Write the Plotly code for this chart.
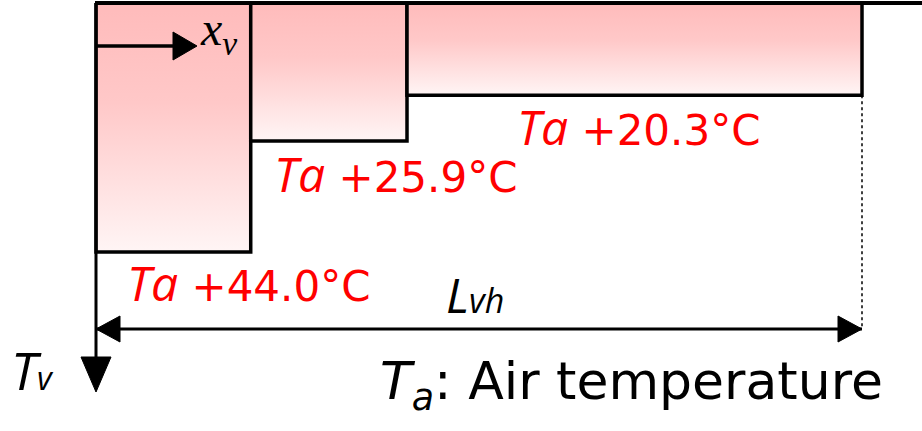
import plotly.graph_objects as go

# ---- data ----
segment_bounds = [0.0, 0.202, 0.406, 1.0]      # x positions along L_vh (fraction)
temp_rise = [44.0, 25.9, 20.3]                  # Ta + ΔT (°C)
drawn_depth = [44.0, 24.4, 16.3]                # schematic box depth (drawn units)
rise_labels = [f"+{v:.1f}°C" for v in temp_rise]

# ---- geometry helpers (pixel calibration of the schematic) ----
W, H = 922, 431
X0, XS = 96.0, 766.0          # px of x=0, px per x-unit
Y0, YS = 3.0, 249.0 / 44.0    # px of y=0, px per y-unit


def px_x(p):
    return (p - X0) / XS


def px_y(p):
    return (p - Y0) / YS


fig = go.Figure()

grad = [[0.0, "#FFBBBB"], [0.4, "#FFC8C8"], [1.0, "#FFF5F5"]]

# boxes with vertical gradient
for i in range(len(temp_rise)):
    x0, x1 = segment_bounds[i], segment_bounds[i + 1]
    d = drawn_depth[i]
    fig.add_trace(go.Scatter(
        x=[x0, x1, x1, x0, x0], y=[0, 0, d, d, 0],
        mode="lines", fill="toself",
        fillgradient=dict(type="vertical", colorscale=grad, start=0, stop=d),
        line=dict(color="black", width=3.5),
        hoverinfo="skip", showlegend=False))

# top line extending right
fig.add_trace(go.Scatter(x=[px_x(95), px_x(922)], y=[0, 0], mode="lines",
                         line=dict(color="black", width=4), showlegend=False, hoverinfo="skip"))

# vertical axis (Tv) with down arrow
arr_y = px_y(329)
tv_tip = px_y(392)
tv_base = px_y(357)
fig.add_trace(go.Scatter(x=[0, 0], y=[0, tv_base + 1], mode="lines",
                         line=dict(color="black", width=3), showlegend=False, hoverinfo="skip"))
hw = 15 / XS
fig.add_trace(go.Scatter(x=[-hw, hw, 0, -hw], y=[tv_base, tv_base, tv_tip, tv_base],
                         mode="lines", fill="toself", fillcolor="black",
                         line=dict(color="black", width=1), showlegend=False, hoverinfo="skip"))

# dotted line at the end of L_vh
x_end = segment_bounds[-1]
fig.add_trace(go.Scatter(x=[x_end, x_end], y=[drawn_depth[-1], arr_y], mode="lines",
                         line=dict(color="black", width=1.5, dash="dot"),
                         showlegend=False, hoverinfo="skip"))

# L_vh double arrow
hl = 24 / XS
hh = 13 / YS
fig.add_trace(go.Scatter(x=[segment_bounds[0], x_end], y=[arr_y, arr_y], mode="lines",
                         line=dict(color="black", width=3), showlegend=False, hoverinfo="skip"))
fig.add_trace(go.Scatter(x=[segment_bounds[0] + hl, segment_bounds[0], segment_bounds[0] + hl, segment_bounds[0] + hl],
                         y=[arr_y - hh, arr_y, arr_y + hh, arr_y - hh],
                         mode="lines", fill="toself", fillcolor="black",
                         line=dict(color="black", width=1), showlegend=False, hoverinfo="skip"))
fig.add_trace(go.Scatter(x=[x_end - hl, x_end, x_end - hl, x_end - hl],
                         y=[arr_y - hh, arr_y, arr_y + hh, arr_y - hh],
                         mode="lines", fill="toself", fillcolor="black",
                         line=dict(color="black", width=1), showlegend=False, hoverinfo="skip"))

# x_v arrow
xv_y = px_y(46)
xv_tip = px_x(197)
xv_base = px_x(173)
xh = 14 / YS
fig.add_trace(go.Scatter(x=[0, xv_base + 0.002], y=[xv_y, xv_y], mode="lines",
                         line=dict(color="black", width=3.5), showlegend=False, hoverinfo="skip"))
fig.add_trace(go.Scatter(x=[xv_base, xv_tip, xv_base, xv_base],
                         y=[xv_y - xh, xv_y, xv_y + xh, xv_y - xh],
                         mode="lines", fill="toself", fillcolor="black",
                         line=dict(color="black", width=1), showlegend=False, hoverinfo="skip"))

# ---- text ----
ta = "<span style='font-family:Open Sans;font-size:48px'><i>Ta</i></span>"
label_pos = [(125, 282), (272, 173), (515, 126)]
for (lx, ly), txt in zip(label_pos, rise_labels):
    fig.add_annotation(x=px_x(lx), y=px_y(ly), text=f"{ta} {txt}", showarrow=False,
                       xanchor="left", yanchor="middle",
                       font=dict(family="DejaVu Sans", size=42, color="#FF0000"))

fig.add_annotation(x=px_x(198), y=px_y(32), text="<i>x<sub>v</sub></i>", showarrow=False,
                   xanchor="left", yanchor="middle",
                   font=dict(family="Liberation Serif", size=48, color="black"))

fig.add_annotation(x=px_x(444), y=px_y(294), text="<i>L<span style='font-size:34px'>vh</span></i>",
                   showarrow=False, xanchor="left", yanchor="middle",
                   font=dict(family="Open Sans", size=48, color="black"))

fig.add_annotation(x=px_x(9), y=px_y(369), text="<i>T<span style='font-size:32px'>v</span></i>",
                   showarrow=False, xanchor="left", yanchor="middle",
                   font=dict(family="Open Sans", size=52, color="black"))

fig.add_annotation(x=px_x(378), y=px_y(385), text="<i>T<sub>a</sub></i>: Air temperature",
                   showarrow=False, xanchor="left", yanchor="middle",
                   font=dict(family="DejaVu Sans", size=52, color="black"))

fig.update_layout(
    width=W, height=H, margin=dict(l=0, r=0, t=0, b=0),
    paper_bgcolor="white", plot_bgcolor="white", showlegend=False,
    xaxis=dict(range=[px_x(0), px_x(W)], visible=False, fixedrange=True),
    yaxis=dict(range=[px_y(H), px_y(0)], visible=False, fixedrange=True),
)

fig.write_html("out.html", config={"displayModeBar": False},
               post_script="document.body.style.margin='0';document.body.style.overflow='hidden';")
